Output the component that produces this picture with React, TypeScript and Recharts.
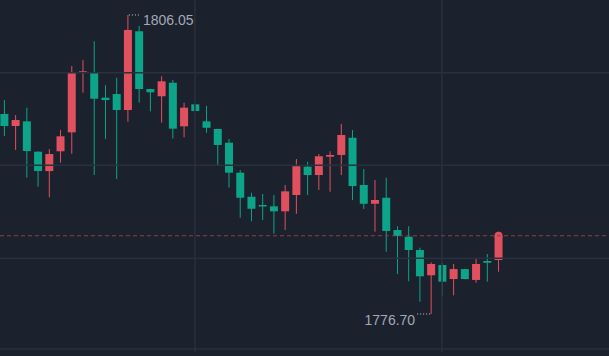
import { ComposedChart, Bar, XAxis, YAxis, ReferenceLine } from 'recharts';

// candle series (index 0 is cut at the left edge)
const opens = [
  1796.33, 1795.15, 1795.61, 1792.63, 1790.73, 1792.67, 1794.53, 1800.38, 1800.38, 1797.93,
  1798.29, 1796.72, 1804.45, 1798.78, 1798.07, 1799.40, 1795.12, 1797.28, 1795.61, 1794.86,
  1793.51, 1790.57, 1788.21, 1787.40, 1787.27, 1786.78, 1788.38, 1791.16, 1790.34, 1792.14,
  1792.31, 1794.00, 1789.36, 1787.52, 1788.11, 1784.94, 1784.29, 1782.98, 1780.50, 1781.51,
  1780.13, 1781.11, 1780.04, 1781.90, 1782.00,
];
const highs = [
  1797.70, 1796.23, 1796.95, 1792.68, 1792.89, 1794.76, 1801.04, 1801.63, 1803.47, 1799.15,
  1799.89, 1806.05, 1804.97, 1798.81, 1800.03, 1799.67, 1797.44, 1797.28, 1797.12, 1794.86,
  1793.88, 1790.83, 1788.60, 1788.48, 1788.38, 1789.36, 1791.91, 1791.65, 1792.40, 1792.67,
  1795.35, 1794.76, 1790.93, 1789.85, 1790.08, 1785.31, 1785.31, 1783.21, 1781.77, 1781.73,
  1781.61, 1781.11, 1782.13, 1782.59, 1784.78,
];
const lows = [
  1794.17, 1792.80, 1790.08, 1789.19, 1788.15, 1791.55, 1792.43, 1798.42, 1790.34, 1793.88,
  1789.95, 1795.57, 1797.44, 1796.59, 1795.48, 1793.91, 1794.04, 1796.62, 1794.49, 1791.32,
  1789.10, 1786.15, 1785.80, 1785.92, 1784.58, 1784.94, 1786.54, 1788.38, 1788.87, 1788.70,
  1790.34, 1787.89, 1787.00, 1784.78, 1782.81, 1780.62, 1779.91, 1777.91, 1776.70, 1778.40,
  1778.53, 1780.13, 1779.77, 1779.87, 1780.85,
];
const closes = [
  1795.15, 1795.74, 1792.70, 1790.73, 1792.40, 1794.14, 1800.38, 1800.52, 1797.83, 1797.70,
  1796.72, 1804.58, 1798.78, 1798.46, 1799.54, 1794.89, 1796.95, 1796.62, 1794.98, 1793.29,
  1790.57, 1788.11, 1787.03, 1787.27, 1786.78, 1788.74, 1791.20, 1790.34, 1792.18, 1792.31,
  1794.27, 1789.26, 1787.52, 1787.89, 1784.85, 1784.35, 1782.98, 1780.40, 1781.61, 1779.87,
  1781.11, 1780.13, 1781.61, 1781.73, 1784.38,
];

const gridPrices = [1800.38, 1791.29, 1782.16, 1773.26];
const gridIndices = [17, 39];

const UP = '#e0505e';
const DOWN = '#0ca58a';
const BG = '#1b212d';
const GRID = '#29313e';
const LABEL = '#a3a9b4';
const DOTS = '#c9cdd4';

const data = opens.map((open, i) => ({
  i,
  open,
  high: highs[i],
  low: lows[i],
  close: closes[i],
}));

const maxIdx = highs.indexOf(Math.max(...highs));
const minIdx = lows.indexOf(Math.min(...lows));
const lastIdx = data.length - 1;

function Candle(props: any) {
  const { x, y, width, height, payload } = props;
  const { open, close, high, low, i } = payload;
  const cx = x + width / 2;
  const ratio = height / (high - low);
  const yOf = (v: number) => y + (high - v) * ratio;
  const color = close >= open ? UP : DOWN;
  const top = yOf(Math.max(open, close));
  const bottom = yOf(Math.min(open, close));
  const bodyW = 8;
  const font = "'Liberation Sans', Arial, sans-serif";
  return (
    <g>
      <line x1={cx} x2={cx} y1={y} y2={y + height} stroke={color} strokeWidth={1} />
      <rect x={cx - bodyW / 2} y={top} width={bodyW} height={Math.max(bottom - top, 1.5)} fill={color} />
      {i === lastIdx && <circle cx={cx} cy={top} r={4} fill={color} />}
      {i === maxIdx && (
        <>
          <line x1={cx + 1} x2={cx + 13} y1={y} y2={y} stroke={DOTS} strokeDasharray="1 2" />
          <text x={cx + 15} y={y + 10} fill={LABEL} fontSize={14} fontFamily={font}>
            {high.toFixed(2)}
          </text>
        </>
      )}
      {i === minIdx && (
        <>
          <line x1={cx - 14} x2={cx - 1} y1={y + height} y2={y + height} stroke={DOTS} strokeDasharray="1 2" />
          <text x={cx - 16} y={y + height + 11} fill={LABEL} fontSize={14} textAnchor="end" fontFamily={font}>
            {low.toFixed(2)}
          </text>
        </>
      )}
    </g>
  );
}

export default function App() {
  return (
    <div style={{ position: 'fixed', left: 0, top: 0, width: 609, height: 356, background: BG, overflow: 'hidden' }}>
      <ComposedChart width={609} height={352} data={data} margin={{ top: 0, right: 0, bottom: 0, left: 0 }}>
        <XAxis dataKey="i" type="number" domain={[-0.356, 53.87]} hide allowDataOverflow />
        <YAxis type="number" domain={[1772.97, 1807.52]} hide allowDataOverflow />
        {gridPrices.map((p) => (
          <ReferenceLine key={p} y={p} stroke={GRID} strokeWidth={1.5} />
        ))}
        {gridIndices.map((g) => (
          <ReferenceLine key={g} x={g} stroke={GRID} strokeWidth={1.5} />
        ))}
        <ReferenceLine y={closes[lastIdx]} stroke="#8f3b47" strokeDasharray="4 3" />
        <Bar
          dataKey={(d: any) => [d.low, d.high]}
          barSize={8}
          shape={Candle}
          isAnimationActive={false}
        />
      </ComposedChart>
    </div>
  );
}
